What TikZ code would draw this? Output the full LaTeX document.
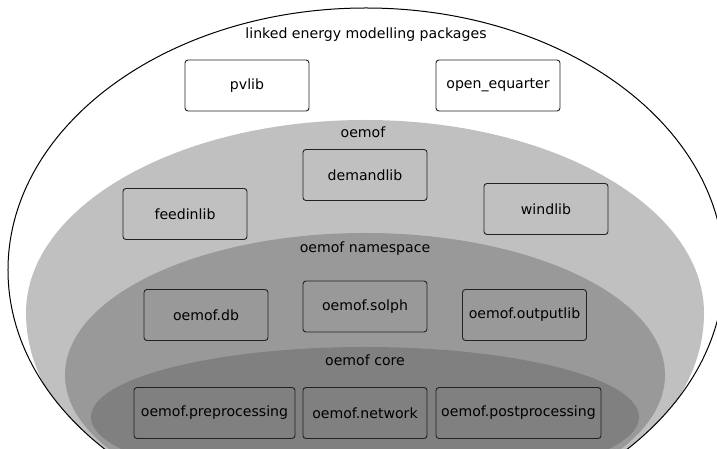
\documentclass[tikz,border=0pt]{standalone}
\usepackage{fontspec}
\setmainfont{DejaVu Sans}
\definecolor{layerA}{HTML}{C0C0C0}
\definecolor{layerB}{HTML}{999999}
\definecolor{layerC}{HTML}{808080}
\definecolor{boxline}{HTML}{222222}
\begin{document}
\begin{tikzpicture}[x=1bp,y=-1bp,
  txt/.style={font=\fontsize{14.1bp}{16bp}\selectfont, text=black, inner sep=0pt},
  pkgbox/.style={txt, draw=boxline, line width=0.9bp, rounded corners=3bp,
    minimum width=124bp, minimum height=51bp},
  layerlabel/.style={txt}]
\useasboundingbox (0,0) rectangle (717,449);
\clip (0,0) rectangle (717,449);
\fill[white] (0,0) rectangle (717,449);
\coordinate (oc) at (366,270);
\fill[white] (oc) ellipse [x radius=358bp, y radius=262bp];
\begin{scope}
  \clip (oc) ellipse [x radius=358bp, y radius=262bp];
  % light grey layer: upper half-ellipse, wider lower part merging with the outer line
  \fill[layerA] (26,313) arc [start angle=180, end angle=0, x radius=339bp, y radius=193bp]
     arc [start angle=0, end angle=-180, x radius=339bp, y radius=222bp] -- cycle;
  \fill[layerB] (365,375) ellipse [x radius=300bp, y radius=142bp];
  \fill[layerC] (365,417) ellipse [x radius=274bp, y radius=70bp];
\end{scope}
\draw[line width=1bp, black] (oc) ellipse [x radius=358bp, y radius=262bp];

\node[layerlabel] (l0) at (366,35) {linked energy modelling packages};
\node[layerlabel] (l1) at (363,132) {oemof};
\node[layerlabel] (l2) at (365,249) {oemof namespace};
\node[layerlabel] (l3) at (365,360) {oemof core};

\node[pkgbox, fill=white] (pvlib) at (247,85.5) {pvlib};
\node[pkgbox, fill=white] (oeq) at (498,85.5) {open\_equarter};
\node[pkgbox] (feedin) at (185,214) {feedinlib};
\node[pkgbox] (demand) at (365,175) {demandlib};
\node[pkgbox] (wind) at (546,209) {windlib};
\node[pkgbox] (db) at (206,315) {oemof.db};
\node[pkgbox] (solph) at (365,306.5) {oemof.solph};
\node[pkgbox] (outlib) at (524.5,315) {oemof.outputlib};
\node[pkgbox, minimum width=161bp] (pre) at (214.5,413) {oemof.preprocessing};
\node[pkgbox] (net) at (365,413) {oemof.network};
\node[pkgbox, minimum width=165bp] (post) at (518.5,413) {oemof.postprocessing};
\end{tikzpicture}
\end{document}
